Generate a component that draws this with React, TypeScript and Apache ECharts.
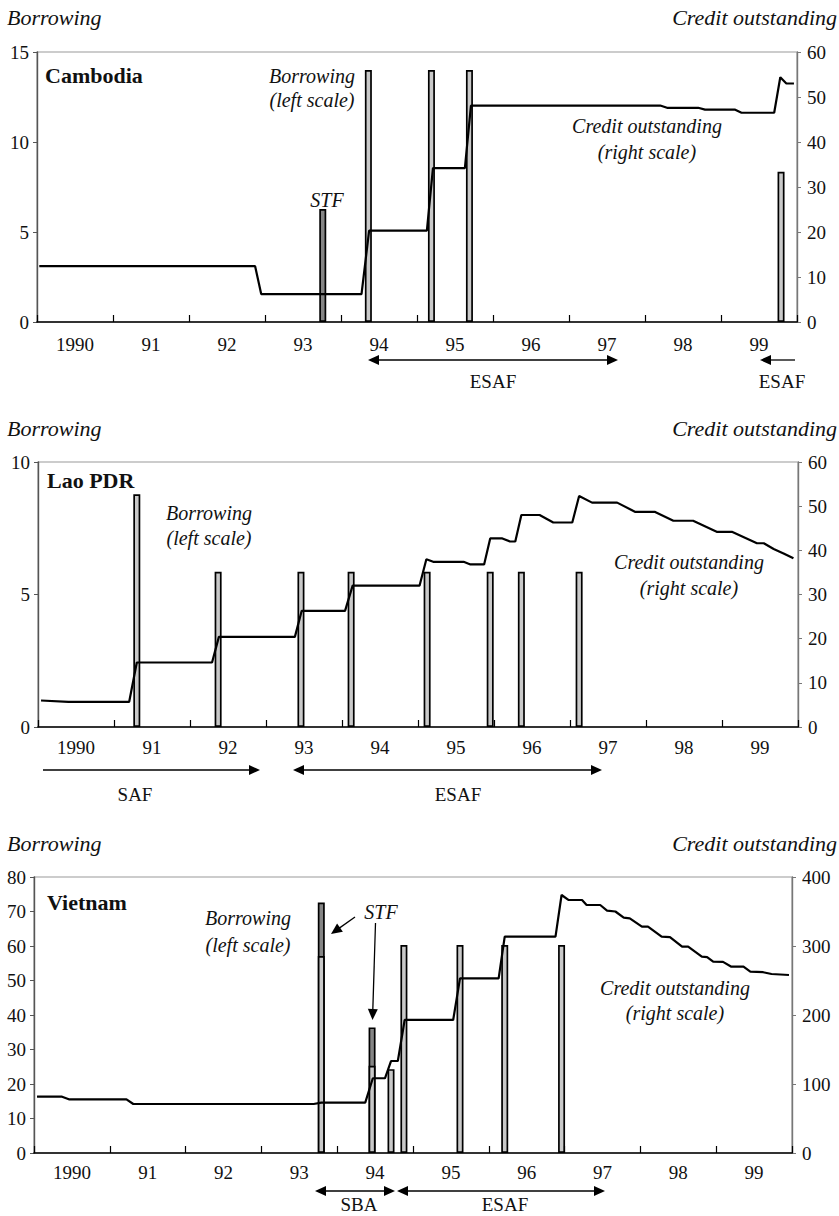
import React, { useEffect, useRef } from "react";
import * as echarts from "echarts";

// ---------- data ----------
const years = ["1990", "91", "92", "93", "94", "95", "96", "97", "98", "99"];

// Cambodia
const camBorrowing: number[][] = [[1994.36, 14], [1995.19, 14], [1995.69, 14], [1999.79, 8.35]];
const camSTF: number[][] = [[1993.76, 6.28]];
const camCredit: number[][] = [
  [1990.03, 12.4], [1992.87, 12.4], [1992.95, 6.2], [1994.27, 6.2], [1994.37, 20.3], [1995.13, 20.3],
  [1995.21, 34.2], [1995.63, 34.2], [1995.71, 48.1], [1998.2, 48.1], [1998.29, 47.6], [1998.7, 47.6],
  [1998.79, 47.2], [1999.18, 47.2], [1999.27, 46.5], [1999.7, 46.5], [1999.78, 54.4], [1999.86, 53.0],
  [1999.96, 53.0],
];

// Lao PDR
const laoBorrowing: number[][] = [
  [1991.3, 8.78], [1992.37, 5.86], [1993.46, 5.86], [1994.12, 5.86], [1995.12, 5.86], [1995.95, 5.86],
  [1996.36, 5.86], [1997.12, 5.86],
];
const laoSTF: number[][] = [];
const laoCredit: number[][] = [
  [1990.04, 6.0], [1990.4, 5.7], [1991.2, 5.7], [1991.3, 14.6], [1992.29, 14.6], [1992.38, 20.4],
  [1993.38, 20.4], [1993.47, 26.3], [1994.04, 26.3], [1994.14, 32.0], [1995.02, 32.0], [1995.11, 38.0],
  [1995.2, 37.4], [1995.6, 37.4], [1995.69, 36.8], [1995.87, 36.8], [1995.95, 42.7], [1996.11, 42.7],
  [1996.21, 42.0], [1996.28, 42.0], [1996.36, 48.0], [1996.6, 48.0], [1996.78, 46.3], [1997.03, 46.3],
  [1997.12, 52.3], [1997.29, 50.8], [1997.62, 50.8], [1997.86, 48.7], [1998.12, 48.7], [1998.36, 46.7],
  [1998.62, 46.7], [1998.93, 44.2], [1999.13, 44.2], [1999.46, 41.6], [1999.55, 41.6], [1999.68, 40.3],
  [1999.81, 39.3], [1999.94, 38.2],
];

// Vietnam
const vnBorrowing: number[][] = [
  [1993.79, 57.1], [1994.46, 25.3], [1994.71, 24.3], [1994.88, 60.3], [1995.62, 60.3], [1996.21, 60.3],
  [1996.96, 60.3],
];
const vnSTF: number[][] = [[1993.79, 15.5], [1994.46, 11.1]];
const vnCredit: number[][] = [
  [1990.04, 81.6], [1990.37, 81.6], [1990.46, 77.8], [1991.22, 77.8], [1991.31, 71.0], [1993.69, 71.0],
  [1993.79, 72.9], [1994.37, 72.9], [1994.47, 108.3], [1994.63, 108.3], [1994.71, 133.3], [1994.8, 133.3],
  [1994.89, 192.8], [1995.53, 192.8], [1995.62, 253.1], [1996.13, 253.1], [1996.21, 313.5], [1996.88, 313.5],
  [1996.96, 373.9], [1997.05, 366.7], [1997.23, 366.7], [1997.29, 359.4], [1997.47, 359.4], [1997.56, 351.2],
  [1997.67, 350], [1997.78, 341], [1997.86, 340], [1998.02, 328], [1998.1, 328], [1998.28, 313.5],
  [1998.39, 313], [1998.55, 299], [1998.63, 299], [1998.81, 284.5], [1998.88, 284], [1998.96, 277.3],
  [1999.09, 277], [1999.2, 270], [1999.36, 270], [1999.45, 262.8], [1999.62, 262], [1999.73, 259.4],
  [1999.96, 258],
];

const FONT = "'Liberation Serif', 'DejaVu Serif', serif";
const TICK_SIZE = 19;

type Panel = {
  name: string;
  left: number; right: number; top: number; height: number;
  leftMax: number; leftInt: number; rightMax: number; rightInt: number;
  borrowing: number[][]; stf: number[][]; credit: number[][];
  xMargin: number;
};

const panels: Panel[] = [
  { name: "Cambodia", left: 37, right: 42, top: 52, height: 270, leftMax: 15, leftInt: 5, rightMax: 60, rightInt: 10,
    borrowing: camBorrowing, stf: camSTF, credit: camCredit, xMargin: 13 },
  { name: "Lao PDR", left: 38, right: 41, top: 462, height: 265, leftMax: 10, leftInt: 5, rightMax: 60, rightInt: 10,
    borrowing: laoBorrowing, stf: laoSTF, credit: laoCredit, xMargin: 11 },
  { name: "Vietnam", left: 34, right: 47, top: 877, height: 276, leftMax: 80, leftInt: 10, rightMax: 400, rightInt: 100,
    borrowing: vnBorrowing, stf: vnSTF, credit: vnCredit, xMargin: 10 },
];

// ---------- annotation helpers ----------
function txt(text: string, x: number, y: number, align: string, font: string) {
  return { type: "text", z: 100, style: { text, x, y, align, verticalAlign: "middle", font, fill: "#111" } };
}
function head(tx: number, ty: number, dx: number, dy: number, len = 11, half = 5) {
  const l = Math.hypot(dx, dy);
  const ux = dx / l, uy = dy / l;
  const bx = tx - ux * len, by = ty - uy * len;
  const nx = -uy, ny = ux;
  return {
    type: "polygon", z: 100,
    shape: { points: [[tx, ty], [bx + nx * half, by + ny * half], [bx - nx * half, by - ny * half]] },
    style: { fill: "#000" },
  };
}
function hArrow(x1: number, x2: number, y: number, leftHead: boolean, rightHead: boolean) {
  const els: any[] = [];
  els.push({ type: "line", z: 100, shape: { x1: x1 + (leftHead ? 8 : 0), y1: y, x2: x2 - (rightHead ? 8 : 0), y2: y },
    style: { stroke: "#000", lineWidth: 1.3 } });
  if (leftHead) els.push(head(x1, y, -1, 0));
  if (rightHead) els.push(head(x2, y, 1, 0));
  return els;
}
function arrow(x1: number, y1: number, x2: number, y2: number) {
  const dx = x2 - x1, dy = y2 - y1;
  const l = Math.hypot(dx, dy);
  return [
    { type: "line", z: 100, shape: { x1, y1, x2: x2 - (dx / l) * 8, y2: y2 - (dy / l) * 8 },
      style: { stroke: "#000", lineWidth: 1.3 } },
    head(x2, y2, dx, dy),
  ];
}

const ITAL = `italic 20px ${FONT}`;
const TITLE = `italic 22px ${FONT}`;
const BOLD = `bold 22px ${FONT}`;
const NORM = `19px ${FONT}`;

const annotations: any[] = [
  // Cambodia
  txt("Borrowing", 7, 17, "left", TITLE),
  txt("Credit outstanding", 837, 17, "right", TITLE),
  txt("Cambodia", 45, 75, "left", BOLD),
  txt("Borrowing", 312, 76, "center", ITAL),
  txt("(left scale)", 312, 100, "center", ITAL),
  txt("STF", 327, 200, "center", ITAL),
  txt("Credit outstanding", 647, 126, "center", ITAL),
  txt("(right scale)", 647, 152, "center", ITAL),
  ...hArrow(368, 618, 360, true, true),
  txt("ESAF", 493, 381, "center", NORM),
  ...hArrow(760, 795, 360, true, false),
  txt("ESAF", 782, 381, "center", NORM),
  // Lao
  txt("Borrowing", 7, 428, "left", TITLE),
  txt("Credit outstanding", 837, 428, "right", TITLE),
  txt("Lao PDR", 47, 480, "left", BOLD),
  txt("Borrowing", 209, 513, "center", ITAL),
  txt("(left scale)", 209, 538, "center", ITAL),
  txt("Credit outstanding", 689, 562, "center", ITAL),
  txt("(right scale)", 689, 588, "center", ITAL),
  ...hArrow(43, 260, 770, false, true),
  txt("SAF", 135, 794, "center", NORM),
  ...hArrow(293, 602, 770, true, true),
  txt("ESAF", 458, 794, "center", NORM),
  // Vietnam
  txt("Borrowing", 7, 843, "left", TITLE),
  txt("Credit outstanding", 837, 843, "right", TITLE),
  txt("Vietnam", 47, 902, "left", BOLD),
  txt("Borrowing", 248, 918, "center", ITAL),
  txt("(left scale)", 248, 945, "center", ITAL),
  txt("STF", 381, 912, "center", ITAL),
  ...arrow(355, 917, 331, 934),
  ...arrow(375.5, 923, 372.5, 1020),
  txt("Credit outstanding", 675, 988, "center", ITAL),
  txt("(right scale)", 675, 1013, "center", ITAL),
  ...hArrow(315, 395, 1191, true, true),
  txt("SBA", 359, 1204, "center", NORM),
  ...hArrow(397, 605, 1191, true, true),
  txt("ESAF", 505, 1204, "center", NORM),
];

function buildOption() {
  const grid: any[] = [];
  const xAxis: any[] = [];
  const yAxis: any[] = [];
  const series: any[] = [];
  panels.forEach((p, i) => {
    grid.push({ left: p.left, right: p.right, top: p.top, height: p.height, show: true,
      borderColor: "#9a9a9a", borderWidth: 1.2, backgroundColor: "transparent" });
    xAxis.push({
      gridIndex: i, type: "category", data: years, boundaryGap: true, position: "bottom", z: 10,
      axisLine: { show: true, lineStyle: { color: "#000", width: 1.6 } },
      axisTick: { show: true, inside: true, length: 7, interval: 0, lineStyle: { color: "#000", width: 1.2 } },
      axisLabel: { interval: 0, fontFamily: FONT, fontSize: TICK_SIZE, color: "#111", margin: p.xMargin },
      splitLine: { show: false },
    });
    xAxis.push({ gridIndex: i, type: "value", min: 1990, max: 2000, show: false });
    const yCommon = {
      gridIndex: i, type: "value", min: 0, splitLine: { show: false },
    };
    yAxis.push({
      ...yCommon, position: "left", max: p.leftMax, interval: p.leftInt,
      axisLine: { show: true, lineStyle: { color: "#555", width: 1.4 } },
      axisTick: { show: true, length: 4, lineStyle: { color: "#555" } },
      axisLabel: { fontFamily: FONT, fontSize: TICK_SIZE, color: "#111", margin: 8 },
    });
    yAxis.push({
      ...yCommon, position: "right", max: p.rightMax, interval: p.rightInt,
      axisLine: { show: true, lineStyle: { color: "#777", width: 1.4 } },
      axisTick: { show: true, length: 4, lineStyle: { color: "#777" } },
      axisLabel: { fontFamily: FONT, fontSize: TICK_SIZE, color: "#111", margin: 10 },
    });
    // total (borrowing + STF) drawn dark, regular borrowing overlaid light
    const regMap = new Map(p.borrowing.map((d) => [d[0], d[1]]));
    const totals = p.stf.map((d) => [d[0], d[1] + (regMap.get(d[0]) || 0)]);
    series.push({
      type: "bar", name: "STF", xAxisIndex: 2 * i + 1, yAxisIndex: 2 * i, data: totals,
      barWidth: 7, barGap: "-100%", z: 3,
      itemStyle: { color: "#858585", borderColor: "#000", borderWidth: 1.7 },
    });
    series.push({
      type: "bar", name: "Borrowing", xAxisIndex: 2 * i + 1, yAxisIndex: 2 * i, data: p.borrowing,
      barWidth: 7, barGap: "-100%", z: 4,
      itemStyle: { color: "#c9c9c9", borderColor: "#000", borderWidth: 1.7 },
    });
    series.push({
      type: "line", name: "Credit outstanding", xAxisIndex: 2 * i + 1, yAxisIndex: 2 * i + 1, data: p.credit,
      showSymbol: false, symbol: "none", z: 6,
      lineStyle: { color: "#000", width: 2.2 },
    });
  });
  return {
    animation: false,
    backgroundColor: "#fff",
    grid, xAxis, yAxis, series,
    graphic: annotations,
  };
}

export default function App() {
  const ref = useRef<HTMLDivElement>(null);
  useEffect(() => {
    if (!ref.current) return;
    const chart = echarts.init(ref.current, undefined, { renderer: "svg" });
    chart.setOption(buildOption());
    return () => chart.dispose();
  }, []);
  return (
    <div
      ref={ref}
      style={{ position: "absolute", left: 0, top: 0, width: 839, height: 1216, background: "#fff" }}
    />
  );
}
